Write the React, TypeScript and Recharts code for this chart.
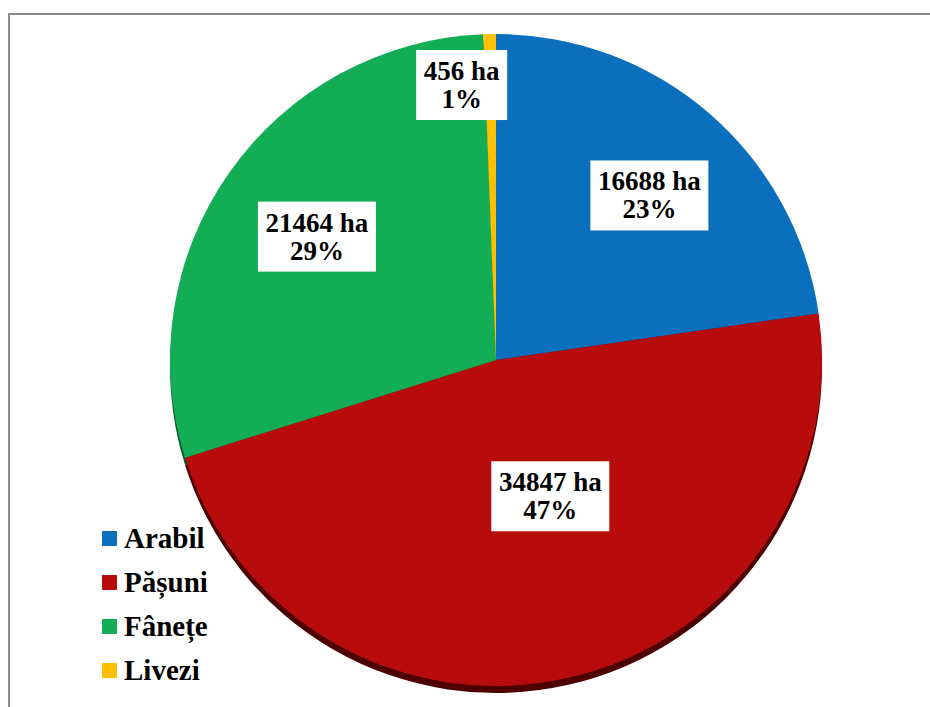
import React from "react";
import { PieChart, Pie, Cell, Legend } from "recharts";

const categories = ["Arabil", "Pășuni", "Fânețe", "Livezi"];
const areas = [16688, 34847, 21464, 456];
const colors = ["#0A6FBD", "#B80B0B", "#12AD55", "#FFC000"];
const depthColors = ["#053A66", "#4E0000", "#085A2B", "#8A6800"];

const data = categories.map((name, i) => ({ name, value: areas[i] }));

const RAD = Math.PI / 180;
const FONT = "'Liberation Serif', serif";

const labelPlacement: Record<string, { ratio: number; shift: number }> = {
  Arabil: { ratio: 0.69, shift: -2.1 },
  "Pășuni": { ratio: 0.45, shift: 8.9 },
  "Fânețe": { ratio: 0.667, shift: 0.6 },
  Livezi: { ratio: 0.85, shift: 6 },
};

const renderLabel = (props: any) => {
  const { cx, cy, midAngle, outerRadius, percent, name, value } = props;
  const p = labelPlacement[name] || { ratio: 0.65, shift: 0 };
  const ang = (midAngle + p.shift) * RAD;
  const r = outerRadius * p.ratio;
  const x = cx + r * Math.cos(ang);
  const y = cy - r * Math.sin(ang);
  const line1 = `${value} ha`;
  const line2 = `${Math.round(percent * 100)}%`;
  const w = line1.length * 13.5 + 10;
  const h = 70;
  return (
    <g>
      <rect x={x - w / 2} y={y - h / 2} width={w} height={h} fill="#FFFFFF" />
      <text
        x={x}
        y={y - h / 2 + 30}
        textAnchor="middle"
        fontFamily={FONT}
        fontWeight="bold"
        fontSize={27}
        fill="#000"
      >
        {line1}
      </text>
      <text
        x={x}
        y={y - h / 2 + 58}
        textAnchor="middle"
        fontFamily={FONT}
        fontWeight="bold"
        fontSize={27}
        fill="#000"
      >
        {line2}
      </text>
    </g>
  );
};

const renderLegend = (props: any) => {
  const payload = (props.payload || [])
    .filter((e: any) => e.type !== "none" && categories.includes(e.value))
    .sort(
      (a: any, b: any) => categories.indexOf(a.value) - categories.indexOf(b.value)
    );
  return (
    <div style={{ fontFamily: FONT }}>
      {payload.map((entry: any, i: number) => (
        <div
          key={i}
          style={{ display: "flex", alignItems: "center", height: 44 }}
        >
          <div
            style={{
              width: 15,
              height: 15,
              background: entry.color,
              marginRight: 7,
            }}
          />
          <span
            style={{
              fontFamily: FONT,
              fontWeight: "bold",
              fontSize: 29,
              color: "#000",
              lineHeight: "44px",
            }}
          >
            {entry.value}
          </span>
        </div>
      ))}
    </div>
  );
};

export default function App() {
  return (
    <div
      style={{
        position: "absolute",
        left: 0,
        top: 0,
        width: 930,
        height: 707,
        overflow: "hidden",
        background: "#fff",
      }}
    >
      <div
        style={{
          position: "absolute",
          left: 8,
          top: 13,
          width: 960,
          height: 760,
          border: "2px solid #8C8C8C",
        }}
      />
      <div style={{ position: "absolute", left: 0, top: 0 }}>
        <PieChart
          width={930}
          height={707}
          margin={{ top: 0, right: 0, bottom: 0, left: 0 }}
        >
          <Pie
            data={data}
            dataKey="value"
            nameKey="name"
            cx={496}
            cy={367}
            outerRadius={326}
            startAngle={90}
            endAngle={-270}
            stroke="none"
            legendType="none"
            isAnimationActive={false}
          >
            {data.map((d, i) => (
              <Cell key={d.name} fill={depthColors[i]} />
            ))}
          </Pie>
          <Pie
            data={data}
            dataKey="value"
            nameKey="name"
            cx={496}
            cy={360}
            outerRadius={326}
            startAngle={90}
            endAngle={-270}
            stroke="none"
            labelLine={false}
            label={renderLabel}
            isAnimationActive={false}
          >
            {data.map((d, i) => (
              <Cell key={d.name} fill={colors[i]} />
            ))}
          </Pie>
          <Legend
            layout="vertical"
            content={renderLegend}
            wrapperStyle={{ position: "absolute", left: 102, top: 516, width: 140 }}
          />
        </PieChart>
      </div>
    </div>
  );
}
